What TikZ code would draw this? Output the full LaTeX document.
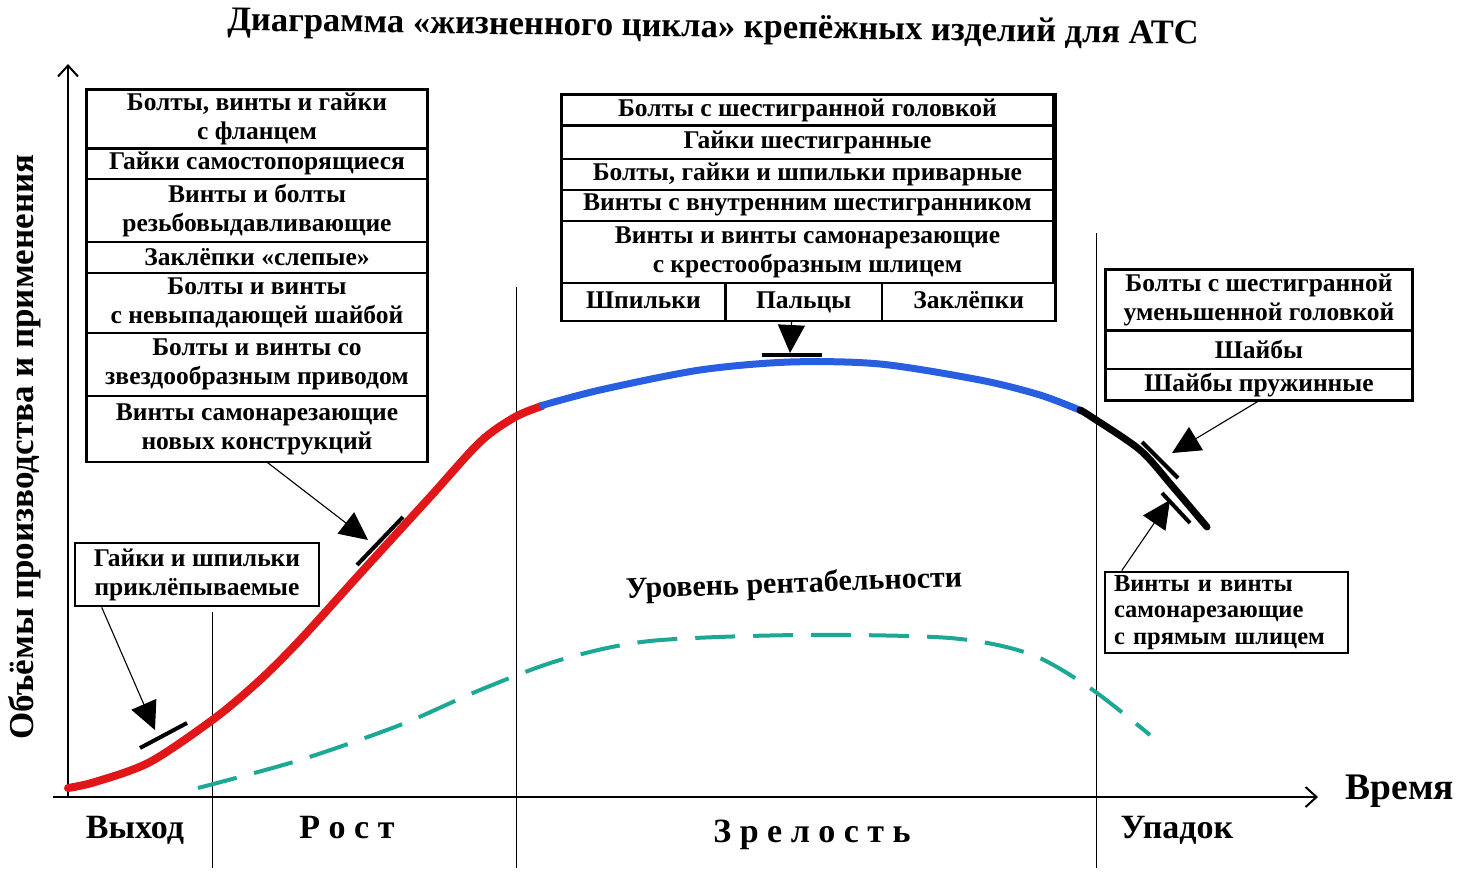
\documentclass[tikz,border=0pt]{standalone}
\usepackage{fontspec}
\setmainfont{Liberation Serif}
\usepackage{tikz}
\usetikzlibrary{positioning,calc}
\usetikzlibrary{arrows.meta}

\definecolor{curvered}{RGB}{225,22,24}
\definecolor{curveblue}{RGB}{40,95,225}
\definecolor{profteal}{RGB}{28,168,148}

\begin{document}
\begin{tikzpicture}[x=1pt,y=-1pt,
    cell/.style={draw,line width=1.1pt,inner sep=0pt,align=center,
      font=\fontsize{25.5}{29}\selectfont\bfseries},
    frame/.style={line width=2.6pt},
    pointer/.style={line width=1.1pt,-{Triangle[length=28pt,width=27pt]}},
    bar/.style={line width=4pt},
    axis/.style={line width=2.6pt,-{Straight Barb[length=11pt,width=20pt,line width=2pt]}},
    phaseline/.style={line width=1pt},
    phase/.style={font=\fontsize{34}{36}\selectfont\bfseries},
    ]
\useasboundingbox (0,0) rectangle (1459,884);

% title and axes
\node[font=\fontsize{34.5}{38}\selectfont\bfseries,rotate=-0.8] (title) at (713,29) {Диаграмма «жизненного цикла» крепёжных изделий для АТС};
\coordinate (o) at (68,797);
\coordinate (ytop) at (68,64);
\coordinate (xbeg) at (53,797);
\coordinate (xend) at (1318,797);
\draw[axis] (o) -- (ytop);
\draw[axis] (xbeg) -- (xend);
\node[rotate=90,font=\fontsize{35}{38}\selectfont\bfseries] (ylab) at (25,447) {Объёмы производства и применения};
\node[font=\fontsize{37.5}{40}\selectfont\bfseries,anchor=west] (time) at (1342,791) {Время};

% phase borders
\draw[phaseline] (212,612) -- (212,868);
\draw[phaseline] (516,287) -- (516,868);
\draw[phaseline] (1096,233) -- (1096,868);
\node[phase] (p1) at (135,830) {Выход};
\node[phase] (p2) at (347,828) {Р о с т};
\node[phase] (p3) at (812,835) {З р е л о с т ь};
\node[phase] (p4) at (1177,830) {Упадок};

% sales curve
\draw[curvered,line width=8pt,line cap=round] plot[smooth] coordinates {(68,788) (95,782) (150,762) (215,718) (260,680) (300,640) (357,577) (430,497) (480,442) (515,417) (542,406)};
\draw[curveblue,line width=7pt] plot[smooth] coordinates {(540,406) (600,390) (700,370) (790,362) (880,364) (980,380) (1040,395) (1082,411)};
\draw[black,line width=7pt,line cap=round] plot[smooth] coordinates {(1080,410) (1090,416) (1140,450) (1173,487) (1207,527)};

% profitability
\draw[profteal,line width=4pt,dash pattern=on 40pt off 18pt] plot[smooth] coordinates {(198,788) (300,760) (400,725) (480,690) (560,660) (650,641) (800,635) (950,638) (1030,654) (1090,688) (1150,735)};
\node[font=\fontsize{30}{32}\selectfont\bfseries,rotate=2] (prof) at (794,585) {Уровень рентабельности};

% left table
\node[cell,minimum width=340pt,minimum height=58pt] (l1) at (257,119) {Болты, винты и гайки\\с фланцем};
\node[cell,minimum width=340pt,minimum height=29pt,below=0pt of l1] (l2) {Гайки самостопорящиеся};
\node[cell,minimum width=340pt,minimum height=62pt,below=0pt of l2] (l3) {Винты и болты\\резьбовыдавливающие};
\node[cell,minimum width=340pt,minimum height=30pt,below=0pt of l3] (l4) {Заклёпки «слепые»};
\node[cell,minimum width=340pt,minimum height=59pt,below=0pt of l4] (l5) {Болты и винты\\с невыпадающей шайбой};
\node[cell,minimum width=340pt,minimum height=62pt,below=0pt of l5] (l6) {Болты и винты со\\звездообразным приводом};
\node[cell,minimum width=340pt,minimum height=65pt,below=0pt of l6] (l7) {Винты самонарезающие\\новых конструкций};
\draw[frame] (l1.north west) rectangle (l7.south east);

% middle table
\node[cell,minimum width=491pt,minimum height=30pt] (m1) at (807.5,110) {Болты с шестигранной головкой};
\node[cell,minimum width=491pt,minimum height=32pt,below=0pt of m1] (m2) {Гайки шестигранные};
\node[cell,minimum width=491pt,minimum height=30pt,below=0pt of m2] (m3) {Болты, гайки и шпильки приварные};
\node[cell,minimum width=491pt,minimum height=30pt,below=0pt of m3] (m4) {Винты с внутренним шестигранником};
\node[cell,minimum width=491pt,minimum height=61pt,below=0pt of m4] (m5) {Винты и винты самонарезающие\\с крестообразным шлицем};
\node[cell,minimum width=163pt,minimum height=37pt,text height=19pt,text depth=6pt,below=0pt of m5.south west,anchor=north west] (m6) {Шпильки};
\node[cell,minimum width=155pt,minimum height=37pt,text height=19pt,text depth=6pt,right=0pt of m6] (m7) {Пальцы};
\node[cell,minimum width=173pt,minimum height=37pt,text height=19pt,text depth=6pt,right=0pt of m7] (m8) {Заклёпки};
\draw[frame] (m1.north west) rectangle (m8.south east);

% right tables
\node[cell,minimum width=306pt,minimum height=60pt] (r1) at (1259,300) {Болты с шестигранной\\уменьшенной головкой};
\node[cell,minimum width=306pt,minimum height=37pt,below=0pt of r1] (r2) {Шайбы};
\node[cell,minimum width=306pt,minimum height=31pt,below=0pt of r2] (r3) {Шайбы пружинные};
\draw[frame] (r1.north west) rectangle (r3.south east);
\node[cell,frame,text width=225pt,inner xsep=9pt,minimum height=81pt,align=left,font=\fontsize{24.5}{26.5}\selectfont\bfseries] (sw) at (1226.5,612.5) {Винты и винты\\самонарезающие\\с прямым шлицем};
\node[cell,frame,minimum width=244pt,minimum height=63pt] (rv) at (197,574.5) {Гайки и шпильки\\приклёпываемые};

% pointers
\coordinate (t1) at (155,730);
\coordinate (t2) at (368,540);
\coordinate (t3) at (790,353);
\coordinate (t4) at (1172,453);
\coordinate (t5) at (1170,500);
\draw[pointer] ([xshift=28pt]rv.south west) -- (t1);
\draw[pointer] ([xshift=10pt]l7.south) -- (t2);
\draw[pointer] ([xshift=-12pt]m7.south) -- (t3);
\draw[pointer] (r3.south) -- (t4);
\draw[pointer] ([xshift=18pt]sw.north west) -- (t5);
\draw[bar] (140,748) -- (187,723);
\draw[bar] (357,565) -- (403,517);
\draw[bar] (762,355) -- (822,355);
\draw[bar] (1142,442) -- (1178,478);
\draw[bar] (1162,493) -- (1190,523);
\end{tikzpicture}
\end{document}
